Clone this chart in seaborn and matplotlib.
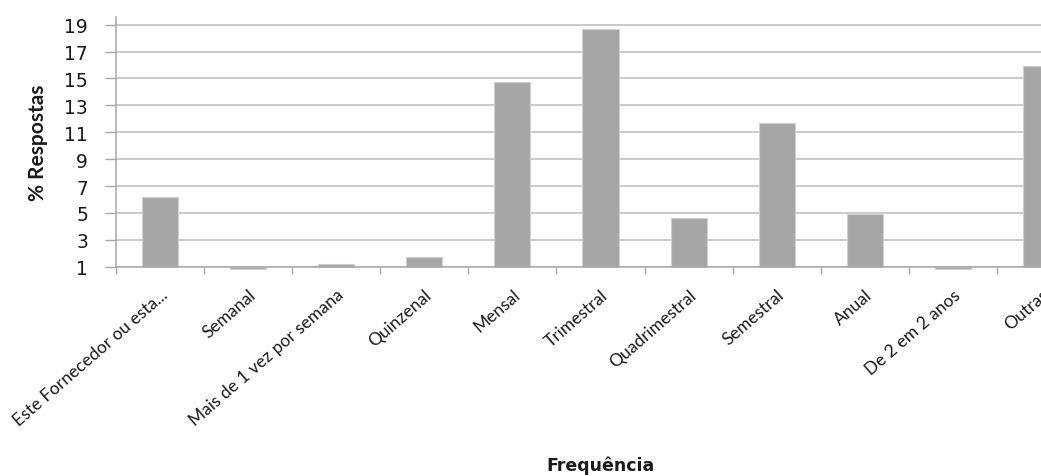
import matplotlib
matplotlib.use("Agg")
import matplotlib.pyplot as plt
import seaborn as sns
import pandas as pd

categorias = [
    "Este Fornecedor ou esta...",
    "Semanal",
    "Mais de 1 vez por semana",
    "Quinzenal",
    "Mensal",
    "Trimestral",
    "Quadrimestral",
    "Semestral",
    "Anual",
    "De 2 em 2 anos",
    "Outras",
]
respostas = [6.2, 0.8, 1.2, 1.7, 14.7, 18.7, 4.6, 11.7, 4.9, 0.8, 15.9]
y_ticks = [1, 3, 5, 7, 9, 11, 13, 15, 17, 19]
base = 1

df = pd.DataFrame({"Frequência": categorias, "% Respostas": respostas})

sns.set_theme(style="white")
plt.rcParams["font.family"] = ["DejaVu Sans"]

fig = plt.figure(figsize=(10.41, 4.77), dpi=100)
ax = fig.add_axes([116 / 1041, 209.3 / 477, 969 / 1041, 249.7 / 477])

sns.barplot(data=df, x="Frequência", y="% Respostas", color="#a6a6a6",
            saturation=1, width=0.41, ax=ax, zorder=3,
            edgecolor="#d0d0d0", linewidth=0.8)

# bars grow from the axis crossing value (1), up or down
for patch, v in zip(ax.patches, respostas):
    patch.set_y(base)
    patch.set_height(v - base)
    patch.set_clip_on(False)

ax.set_xlim(-0.5, len(categorias) - 0.5)
ax.set_ylim(base, 19.57)
ax.set_yticks(y_ticks)
ax.set_yticklabels([str(t) for t in y_ticks], fontsize=13.5, color="#1a1a1a")
ax.yaxis.grid(True, color="#bcbcbc", linewidth=1.1, zorder=0)
ax.set_axisbelow(True)

for s in ["top", "right"]:
    ax.spines[s].set_visible(False)
for s in ["left", "bottom"]:
    ax.spines[s].set_color("#a8a8a8")
    ax.spines[s].set_linewidth(1.1)
    ax.spines[s].set_zorder(4)

ax.tick_params(axis="y", which="major", left=True, length=8, width=1,
               color="#a8a8a8", pad=12)

# category ticks sit between the bars
ax.set_xticks(range(len(categorias)))
ax.set_xticklabels(categorias, rotation=41, ha="right", rotation_mode="anchor",
                   fontsize=12.5, family="Lato", color="#1a1a1a")
for lbl in ax.get_xticklabels():
    lbl.set_x(lbl.get_position()[0])
ax.tick_params(axis="x", which="major", bottom=False, pad=8)
ax.set_xticks([i - 0.5 for i in range(len(categorias) + 1)], minor=True)
ax.tick_params(axis="x", which="minor", bottom=True, length=5, width=1,
               color="#a8a8a8")

ax.set_ylabel("% Respostas", fontsize=15, fontweight="bold", family="Lato",
              labelpad=12, color="#1a1a1a")
ax.set_xlabel("")
fig.text(600 / 1041, 1 - 466 / 477, "Frequência", ha="center", va="center",
         fontsize=12.5, fontweight="bold", color="#1a1a1a")

fig.savefig("out.png", dpi=100)
